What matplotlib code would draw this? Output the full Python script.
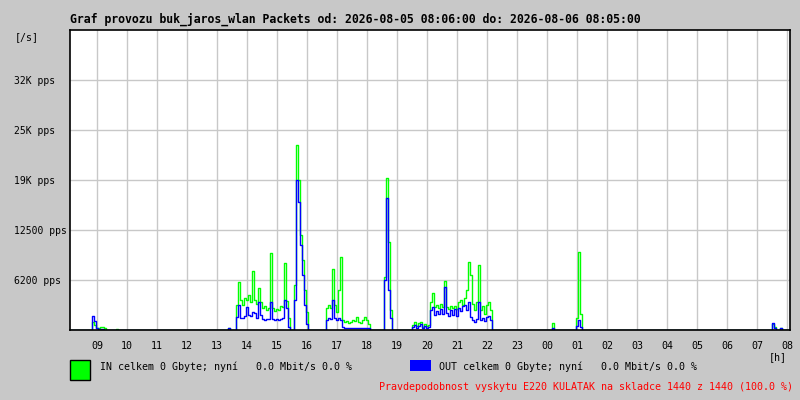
import numpy as np
import matplotlib
matplotlib.use('Agg')
import matplotlib.pyplot as plt
from matplotlib.patches import Rectangle

# samples every 4 minutes, starting 2026-08-05 08:06
step_min = 4
in_pps = ([0] * 11
          + [1000, 600, 300, 300, 400, 400, 300]
          + [0] * 5 + [150] + [0] * 55 + [250] + [0] * 3
          + [3100, 6000, 3750, 3100, 4000, 3750, 4400, 3500, 7400, 3750,
             3250, 5250, 3500, 2750, 3000, 2500, 2750, 9600, 2750, 2400,
             2600, 2500, 3000, 2900, 8400, 3600, 1500, 0, 0, 5600,
             23100, 18750, 11900, 8750, 5000, 2250]
          + [0] * 9
          + [2750, 3100, 2750, 7600, 3100, 2250, 5000, 9100, 1250, 1000,
             1100, 900, 1000, 1200, 1100, 1600, 1000, 900, 1200, 1600,
             1300, 800]
          + [0] * 7
          + [6600, 19000, 11000, 2500]
          + [0] * 10
          + [600, 1000, 500, 900, 1000, 400, 800, 500, 600,
             3500, 4600, 2900, 3100, 2750, 3300, 2900, 6100, 2900, 2600,
             3000, 2750, 3000, 2600, 3500, 3750, 3100, 4000, 5000, 8500,
             6900, 3300, 2500, 3500, 8100, 2500, 3000, 2000, 3100, 3500,
             2500]
          + [0] * 30 + [900] + [0] * 11
          + [1500, 9700, 2000]
          + [0] * 95
          + [700, 400, 0, 0, 250]
          + [0] * 4)

out_pps = ([0] * 11
           + [1700, 1100, 200, 100, 100, 100, 0]
           + [0] * 5 + [0] + [0] * 55 + [250] + [0] * 3
           + [1600, 3100, 1500, 1500, 1750, 2900, 1900, 1750, 2250, 2100,
              1500, 3500, 1900, 1400, 1250, 1400, 1400, 3500, 1400, 1250,
              1400, 1250, 1400, 1500, 3750, 2750, 400, 0, 0, 3750,
              18750, 16000, 10600, 6900, 3100, 750]
           + [0] * 9
           + [1250, 1500, 1400, 3750, 1500, 1250, 1500, 1200, 400, 250,
              250, 250, 250, 250, 250, 250, 250, 250, 300, 300,
              300, 250]
           + [0] * 7
           + [6250, 16500, 5000, 1500]
           + [0] * 10
           + [400, 600, 300, 500, 700, 250, 500, 300, 400,
              2500, 2900, 1900, 2400, 2000, 2600, 2000, 5400, 2100, 1700,
              2500, 1900, 2600, 1700, 2800, 2400, 3000, 3100, 2500, 3500,
              1600, 1200, 1000, 1400, 3500, 1200, 1500, 1100, 1600, 1700,
              1250]
           + [0] * 30 + [250] + [0] * 11
           + [500, 1250, 400]
           + [0] * 95
           + [850, 300, 0, 0, 250]
           + [0] * 4)

hour_labels = ['09', '10', '11', '12', '13', '14', '15', '16', '17', '18', '19', '20',
               '21', '22', '23', '00', '01', '02', '03', '04', '05', '06', '07', '08']
first_hour_min = 54  # 09:00 is 54 min after 08:06
y_ticks = [6250, 12500, 18750, 25000, 31250]
y_labels = ['6200 pps', '12500 pps', '19K pps', '25K pps', '32K pps']
y_max = 37500

title = 'Graf provozu buk_jaros_wlan Packets od: 2026-08-05 08:06:00 do: 2026-08-06 08:05:00'
in_text = 'IN celkem 0 Gbyte; nyní   0.0 Mbit/s 0.0 %'
out_text = 'OUT celkem 0 Gbyte; nyní   0.0 Mbit/s 0.0 %'
note_text = 'Pravdepodobnost vyskytu E220 KULATAK na skladce 1440 z 1440 (100.0 %)'

bg = '#c8c8c8'
mono = 'DejaVu Sans Mono'
fs = 7.2

t = np.arange(len(in_pps)) * step_min

fig = plt.figure(figsize=(8, 4), dpi=100, facecolor=bg)
ax = fig.add_axes([70 / 800, 70 / 400, 720 / 800, 300 / 400])
ax.set_facecolor('white')

ax.step(t, in_pps, where='post', color='#00ff00', lw=1.0, zorder=3)
ax.step(t, out_pps, where='post', color='#0000ff', lw=1.0, zorder=4)

ax.set_xlim(0, 1440)
ax.set_ylim(0, y_max)
ax.set_xticks([first_hour_min + 60 * k for k in range(len(hour_labels))])
ax.set_xticklabels(hour_labels, fontsize=fs, family=mono)
ax.set_yticks(y_ticks)
ax.set_yticklabels(y_labels, fontsize=7.0, family=mono, ha='left')
ax.tick_params(axis='x', length=0, pad=8)
ax.tick_params(axis='y', length=0, pad=40.5)
ax.grid(True, color='#c8c8c8', lw=1.0, zorder=1)
for s in ax.spines.values():
    s.set_color('black')
    s.set_linewidth(1.2)
    s.set_zorder(5)

fig.text(70 / 800, 1 - 19 / 400, title, fontsize=8.3, family=mono,
         fontweight='bold', ha='left', va='center')
fig.text(15 / 800, 1 - 37 / 400, '[/s]', fontsize=fs, family=mono, ha='left', va='center')
fig.text(787 / 800, 1 - 357 / 400, '[h]', fontsize=fs, family=mono, ha='right', va='center')

fig.add_artist(Rectangle((70 / 800, 20 / 400), 20 / 800, 20 / 400,
                         transform=fig.transFigure, facecolor='#00ff00',
                         edgecolor='black', lw=1.0))
fig.text(100 / 800, 1 - 367 / 400, in_text, fontsize=fs, family=mono, ha='left', va='center')
fig.add_artist(Rectangle((410 / 800, 29 / 400), 21 / 800, 11 / 400,
                         transform=fig.transFigure, facecolor='#0000ff',
                         edgecolor='none'))
fig.text(439 / 800, 1 - 367 / 400, out_text, fontsize=fs, family=mono, ha='left', va='center')
fig.text(793 / 800, 1 - 387 / 400, note_text, fontsize=fs, family=mono,
         color='#ff0000', ha='right', va='center')

fig.savefig('out.png', dpi=100, facecolor=bg)
